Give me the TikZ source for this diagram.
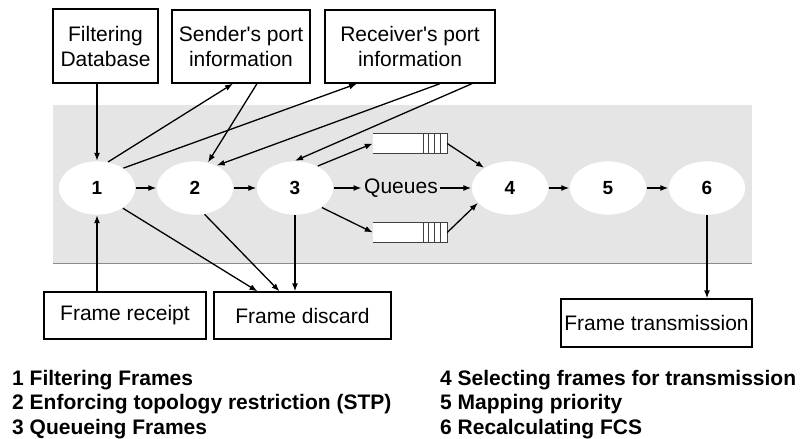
\documentclass[tikz,border=0pt]{standalone}
\usepackage{fontspec}
\setmainfont{Liberation Sans}
\usepackage{tikz}
\usetikzlibrary{shapes.geometric,arrows.meta}

\begin{document}
\begin{tikzpicture}[
  x=1pt, y=-1pt,
  box/.style={draw, line width=1.3pt, fill=white, align=center, inner sep=2pt, font=\fontsize{21}{25}\selectfont},
  stage/.style={ellipse, fill=white, draw=black!12, minimum width=77pt, minimum height=54pt, inner sep=0pt, font=\fontsize{19}{20}\selectfont\bfseries},
  queue/.style={minimum width=74pt, minimum height=19pt, inner sep=0pt, fill=white},
  arr/.style={-{Latex[length=8pt,width=6pt]}, line width=1.3pt},
  legend/.style={anchor=base west, inner sep=0pt, font=\fontsize{21}{24.5}\selectfont\bfseries}
]

\useasboundingbox (0,0) rectangle (804,439);

\fill[black!10] (53,105) rectangle (752,263);
\draw[black!45, line width=1pt] (53,263) -- (752,263);

\node[box, minimum width=105pt, minimum height=74pt] (fdb) at (105.5,46) {Filtering\\Database};
\node[box, minimum width=138pt, minimum height=73pt] (sender) at (241,46.5) {Sender\textquotesingle s port\\information};
\node[box, minimum width=170pt, minimum height=73pt] (recv) at (410,46.5) {Receiver\textquotesingle s port\\information};

\node[stage] (s1) at (97,188) {1};
\node[stage] (s2) at (195,188) {2};
\node[stage] (s3) at (295,188) {3};
\node[stage] (s4) at (510,188) {4};
\node[stage] (s5) at (608,188) {5};
\node[stage] (s6) at (707,188) {6};

\node[font=\fontsize{21}{25}\selectfont, inner sep=2.5pt] (queues) at (401,188) {Queues};
\node[queue] (q1) at (410,143.5) {};
\node[queue] (q2) at (410,232.5) {};

\node[box, minimum width=162pt, minimum height=47pt] (receipt) at (125,315.5) {Frame receipt};
\node[box, minimum width=177pt, minimum height=47pt] (discard) at (302.5,315.5) {Frame discard};
\node[box, minimum width=191pt, minimum height=48pt] (trans) at (656.5,323) {Frame transmission};

\node[legend] (l1) at (12,385) {1 Filtering Frames};
\node[legend] (l2) at (12,409.5) {2 Enforcing topology restriction (STP)};
\node[legend] (l3) at (12,434) {3 Queueing Frames};
\node[legend] (l4) at (440,385) {4 Selecting frames for transmission};
\node[legend] (l5) at (440,409.5) {5 Mapping priority};
\node[legend] (l6) at (440,434) {6 Recalculating FCS};

\foreach \q in {q1,q2} {
  \draw[black!75, line width=1pt] (\q.north west) -- (\q.north east) -- (\q.south east) -- (\q.south west);
  \foreach \dx in {6.5,13,19,24}
    \draw[black!75, line width=1pt] ([xshift=-\dx pt]\q.north east) -- ([xshift=-\dx pt]\q.south east);
}

\draw[arr] (fdb.south -| s1.north) -- (s1.north);
\draw[arr] (s1.67) -- ([xshift=-8pt]sender.south);
\draw[arr] ([xshift=16pt]sender.south) -- (s2.63);
\draw[arr] (s1.37) -- ([xshift=-53pt]recv.south);
\draw[arr] ([xshift=30pt]recv.south) -- (s2.46);
\draw[arr] ([xshift=62pt]recv.south) -- (s3.north);

\draw[arr] (s1) -- (s2);
\draw[arr] (s2) -- (s3);
\draw[arr] (s3) -- (queues);
\draw[arr] (queues) -- (s4);
\draw[arr] (s4) -- (s5);
\draw[arr] (s5) -- (s6);
\draw[arr] (s3.44) -- (q1.west);
\draw[arr] (s3.-36) -- (q2.west);
\draw[arr] (q1.east) -- (s4.142);
\draw[arr] (q2.east) -- (s4.205);

\draw[arr] (receipt.north -| s1.south) -- (s1.south);
\draw[arr] (s1.-38) -- ([xshift=-45pt]discard.north);
\draw[arr] (s2.-70) -- ([xshift=-23pt]discard.north);
\draw[arr] (s3.south) -- (s3.south |- discard.north);
\draw[arr] (s6.south) -- (s6.south |- trans.north);

\end{tikzpicture}
\end{document}
